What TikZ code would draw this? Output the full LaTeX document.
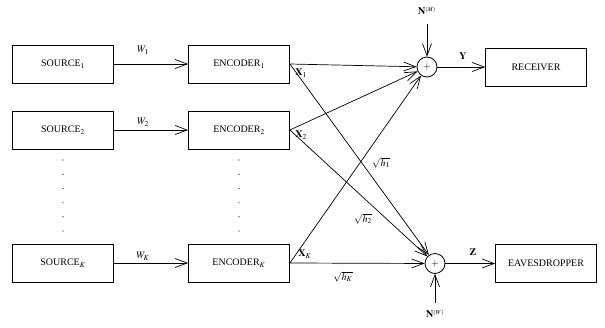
\documentclass[tikz,border=0pt]{standalone}
\usepackage{mathptmx}
\usepackage{fontspec}
\setmainfont{Liberation Serif}
\usetikzlibrary{arrows.meta}
\begin{document}
\begin{tikzpicture}[x=1pt,y=-1pt,font=\fontsize{10}{12}\selectfont,
  box/.style={draw,line width=0.8pt,minimum width=101pt,minimum height=38pt,inner sep=0pt},
  sum/.style={draw,circle,line width=0.8pt,minimum size=20pt,inner sep=0pt},
  arr/.style={line width=0.7pt,-{Straight Barb[length=12pt,width=9pt,line width=0.7pt]}},
  lbl/.style={inner sep=1pt}]
\useasboundingbox (0,0) rectangle (605,327);
% sources
\node[box] (s1) at (63,64) {SOURCE$_1$};
\node[box] (s2) at (63,130) {SOURCE$_2$};
\node[box] (sK) at (63,263) {SOURCE$_K$};
% encoders
\node[box] (e1) at (239,64) {ENCODER$_1$};
\node[box] (e2) at (239,130) {ENCODER$_2$};
\node[box] (eK) at (239,263) {ENCODER$_K$};
% adders
\node[sum] (p1) at (427,67) {$+$};
\node[sum] (p2) at (435,263.5) {$+$};
% receivers
\node[box] (rx) at (536,67) {RECEIVER};
\node[box] (ev) at (546,263.5) {EAVESDROPPER};
% source to encoder
\draw[arr] (s1) -- (e1);
\draw[arr] (s2) -- (e2);
\draw[arr] (sK) -- (eK);
\node[lbl] (w1) at (143,50) {$W_1$};
\node[lbl] (w2) at (143,122) {$W_2$};
\node[lbl] (wK) at (143,256) {$W_K$};
% encoder to adders
\draw[arr] (e1.east) -- (p1);
\draw[arr] (e1.east) -- (p2);
\draw[arr] (e2.east) -- (p1);
\draw[arr] (e2.east) -- (p2);
\draw[arr] (eK.east) -- (p1);
\draw[arr] (eK.east) -- (p2);
\node[lbl] (x1) at (301,73) {$\mathbf{X}_1$};
\node[lbl] (x2) at (301,135) {$\mathbf{X}_2$};
\node[lbl] (xK) at (305,254) {$\mathbf{X}_K$};
\node[lbl] (h1) at (381,163) {$\sqrt{h_1}$};
\node[lbl] (h2) at (363,219) {$\sqrt{h_2}$};
\node[lbl] (hK) at (343,277) {$\sqrt{h_K}$};
% outputs
\draw[arr] (p1) -- (rx);
\draw[arr] (p2) -- (ev);
\node[lbl] (yl) at (463,56) {$\mathbf{Y}$};
\node[lbl] (zl) at (473,252) {$\mathbf{Z}$};
% noise
\coordinate (nm0) at (427,24);
\coordinate (nw0) at (435,303);
\node[lbl] (nm) at (427,11) {$\mathbf{N}^{\scriptscriptstyle(M)}$};
\node[lbl] (nw) at (435,314) {$\mathbf{N}^{\scriptscriptstyle(W)}$};
\draw[arr] (nm0) -- (p1);
\draw[arr] (nw0) -- (p2);
% vertical dots
\foreach \yy in {160,174.2,188.4,202.6,216.8,231} {
  \fill (63,\yy) circle (0.6pt);
  \fill (239,\yy) circle (0.6pt);
}
\end{tikzpicture}
\end{document}
